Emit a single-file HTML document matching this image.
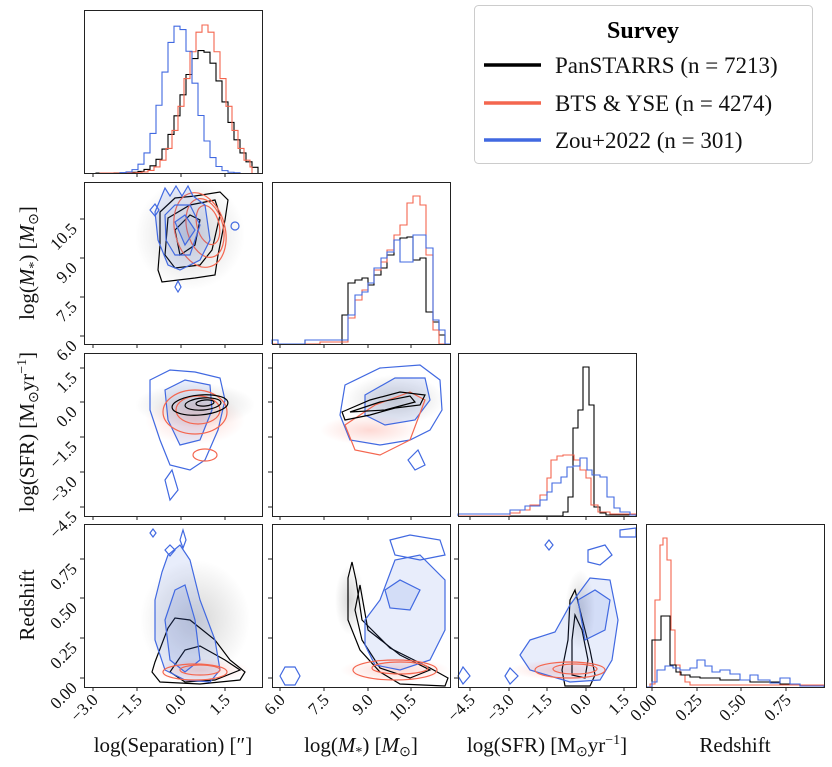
<!DOCTYPE html>
<html><head><meta charset="utf-8"><style>
body{margin:0;background:#fff}
svg{display:block;font-family:"Liberation Serif",serif}
</style></head><body>
<svg id="s" width="832" height="767" viewBox="0 0 832 767" xmlns="http://www.w3.org/2000/svg">
<defs>
<radialGradient id="g"><stop offset="0" stop-color="#888" stop-opacity="0.35"/><stop offset="1" stop-color="#888" stop-opacity="0"/></radialGradient>
<radialGradient id="r"><stop offset="0" stop-color="#fa8070" stop-opacity="0.3"/><stop offset="1" stop-color="#fa8070" stop-opacity="0"/></radialGradient>
</defs>
<g id="plots"></g>
<g fill="none" stroke="#222" stroke-width="1">
<rect x="84.5" y="10.5" width="178" height="163"/>
<rect x="84.5" y="182.5" width="178" height="162"/>
<rect x="272.5" y="182.5" width="178" height="162"/>
<rect x="84.5" y="353.5" width="178" height="163"/>
<rect x="272.5" y="353.5" width="178" height="163"/>
<rect x="458.5" y="353.5" width="178" height="163"/>
<rect x="84.5" y="524.5" width="178" height="163"/>
<rect x="272.5" y="524.5" width="178" height="163"/>
<rect x="458.5" y="524.5" width="178" height="163"/>
<rect x="646.5" y="524.5" width="178" height="163"/>
</g>
<g id="ticks" stroke="#222" stroke-width="1"></g>
<g font-size="17" fill="#111" id="tl"></g>
<g font-size="21" fill="#111" text-anchor="middle">
<text x="173" y="752">log(Separation) [″]</text>
<text x="361" y="752">log(<tspan font-style="italic">M</tspan><tspan font-size="14" dy="4">*</tspan><tspan dy="-4">) [</tspan><tspan font-style="italic">M</tspan><tspan font-size="14" dy="4">⊙</tspan><tspan dy="-4">]</tspan></text>
<text x="547" y="752">log(SFR) [M<tspan font-size="14" dy="4">⊙</tspan><tspan dy="-4">yr</tspan><tspan font-size="14" dy="-8">−1</tspan><tspan dy="8">]</tspan></text>
<text x="735" y="752">Redshift</text>
<text transform="translate(34,263) rotate(-90)">log(<tspan font-style="italic">M</tspan><tspan font-size="14" dy="4">*</tspan><tspan dy="-4">) [</tspan><tspan font-style="italic">M</tspan><tspan font-size="14" dy="4">⊙</tspan><tspan dy="-4">]</tspan></text>
<text transform="translate(34,432) rotate(-90)">log(SFR) [M<tspan font-size="14" dy="4">⊙</tspan><tspan dy="-4">yr</tspan><tspan font-size="14" dy="-8">−1</tspan><tspan dy="8">]</tspan></text>
<text transform="translate(34,605) rotate(-90)">Redshift</text>
</g>
<rect x="474.5" y="5.5" width="338" height="158" rx="4" fill="#fff" stroke="#ccc"/>
<text x="643" y="38" font-size="24" font-weight="bold" text-anchor="middle">Survey</text>
<g stroke-width="3.5"><line x1="484" y1="65" x2="541" y2="65" stroke="#000"/><line x1="484" y1="103" x2="541" y2="103" stroke="#f4664f"/><line x1="484" y1="140" x2="541" y2="140" stroke="#4169e1"/></g>
<g font-size="23" fill="#111"><text x="555" y="73">PanSTARRS (n = 7213)</text><text x="555" y="111">BTS &amp; YSE (n = 4274)</text><text x="555" y="148">Zou+2022 (n = 301)</text></g>
</svg>
<script>
const NS="http://www.w3.org/2000/svg",P=document.getElementById('plots');
function el(t,a){const e=document.createElementNS(NS,t);for(const k in a)e.setAttribute(k,a[k]);P.appendChild(e);return e;}
const K="#000",R="#f4664f",B="#4169e1";
function step(pts,base,x0,x1,c){let d=`M${x0},${base}`;for(let i=0;i<pts.length;i++){const [x,y]=pts[i];d+=` H${x} V${y}`;}d+=` H${x1} V${base}`;el('path',{d,fill:'none',stroke:c,'stroke-width':1.1});}
function gstep(cx,s,h,base,x0,x1,w,c){const pts=[];for(let x=x0;x<=x1;x+=w){const v=h*Math.exp(-((x+w/2-cx)**2)/(2*s*s));pts.push([x,base-v]);}step(pts,base,x0,x1,c);}
gstep(203,21,123,173,96,258,6,K);
gstep(205,19,148,173,100,252,6,R);
gstep(179,16,148,173,120,240,6,B);
step([[305,340],[342,344],[342,315],[348,283],[355,280],[362,278],[368,285],[374,275],[381,268],[387,255],[394,240],[400,238],[407,237],[413,260],[420,258],[426,312],[433,322],[439,335],[445,344]],344,272,450,K);
step([[320,342],[348,318],[355,300],[362,290],[368,283],[374,270],[381,262],[387,250],[394,235],[400,225],[407,203],[413,196],[420,205],[426,255],[433,330],[439,344]],344,272,450,R);
step([[272,340],[278,344],[305,340],[348,315],[355,295],[362,292],[368,283],[374,268],[381,258],[387,252],[394,240],[400,262],[407,262],[413,235],[420,235],[426,248],[433,320],[439,330],[445,344]],344,272,450,B);
step([[563,512],[568,497],[573,428],[578,410],[583,367],[589,405],[594,507],[600,513],[606,515]],516,458,636,K);
step([[510,513],[520,510],[530,505],[540,495],[547,478],[551,460],[557,456],[563,455],[569,455],[574,460],[580,470],[586,478],[591,505],[598,512],[610,514]],516,458,636,R);
step([[458,514],[510,510],[525,506],[540,500],[547,492],[552,483],[561,477],[567,467],[573,466],[580,458],[587,470],[592,475],[600,477],[607,497],[614,508],[620,512],[630,515]],516,458,636,B);
step([[650,684],[655,600],[660,545],[663,538],[667,560],[671,630],[675,665],[680,675],[685,682],[690,685]],687,646,824,R);
step([[652,640],[661,616],[667,616],[670,665],[676,672],[681,675],[690,677],[700,678],[720,680],[750,682],[780,684],[800,686]],687,646,824,K);
step([[652,682],[657,670],[665,666],[673,668],[680,670],[690,668],[697,660],[705,666],[712,672],[720,670],[730,674],[740,680],[750,675],[758,680],[770,683],[780,678],[790,684],[800,686],[810,686]],687,646,824,B);
function cloud(cx,cy,rx,ry,f){el('ellipse',{cx,cy,rx,ry,fill:`url(#${f})`});}
cloud(190,235,55,55,'g');cloud(195,405,60,22,'g');cloud(395,400,50,25,'g');cloud(195,620,55,60,'g');cloud(350,600,15,35,'g');cloud(580,610,15,40,'g');
cloud(200,670,50,12,'r');cloud(395,670,55,12,'r');cloud(560,670,50,10,'r');cloud(195,420,50,25,'r');cloud(370,430,50,15,'r');
function poly(pts,c,f){el('path',{d:'M'+pts.map(p=>p.join(',')).join(' L')+' Z',fill:f||'none','fill-opacity':0.12,stroke:c,'stroke-width':1.2});}
function ell(cx,cy,rx,ry,c,rot){el('ellipse',{cx,cy,rx,ry,fill:'none',stroke:c,'stroke-width':1.2,transform:`rotate(${rot||0} ${cx} ${cy})`});}
poly([[160,212],[175,198],[195,196],[220,192],[228,200],[225,220],[218,255],[215,275],[195,278],[162,282],[158,270],[160,245]],K);
poly([[168,218],[190,205],[215,200],[220,215],[212,250],[200,265],[175,268],[165,255]],K);
poly([[175,230],[190,215],[200,220],[195,245],[180,255]],K);
ell(200,230,25,38,R,-15);ell(205,228,18,30,R,-15);ell(208,225,11,20,R,-15);
poly([[155,212],[165,188],[170,196],[176,186],[182,196],[188,186],[193,196],[205,205],[210,240],[200,260],[180,270],[168,265],[158,240]],B,B);
poly([[165,215],[175,205],[190,205],[200,225],[190,255],[175,255],[166,240]],B);
poly([[175,222],[185,215],[195,230],[185,245]],B,B);
poly([[150,210],[155,204],[159,210],[155,216]],B);poly([[175,287],[178,281],[181,287],[178,292]],B);ell(235,226,4,4,B);
poly([[150,380],[170,370],[195,372],[220,378],[225,400],[218,430],[205,460],[190,470],[170,465],[160,440],[150,410]],B);
poly([[165,390],[185,380],[210,385],[212,410],[200,440],[180,445],[168,420]],B,B);
poly([[165,480],[172,470],[178,490],[170,500]],B);
ell(195,412,32,22,R,0);ell(198,410,22,14,R,0);ell(205,455,12,6,R,0);
ell(200,405,28,10,K,-5);ell(203,404,18,6,K,-5);ell(205,403,9,3,K,-5);
poly([[345,385],[380,368],[420,365],[440,380],[442,410],[430,430],[410,440],[380,445],[350,440],[340,415]],B);
poly([[365,395],[395,378],[425,378],[430,400],[415,420],[385,425],[365,415]],B,B);
poly([[408,460],[418,450],[425,465],[415,470]],B);
poly([[345,425],[375,405],[410,392],[425,400],[410,440],[380,455],[355,450]],R);
poly([[342,412],[370,400],[400,392],[425,395],[420,405],[395,408],[370,415],[345,420]],K);
poly([[350,412],[380,402],[410,396],[415,402],[385,410]],K);
poly([[152,672],[155,662],[168,628],[175,618],[190,620],[215,640],[230,660],[245,672],[240,680],[200,684],[160,682]],K);
poly([[170,672],[185,650],[200,646],[225,660],[240,670],[215,680],[185,682]],K);
poly([[155,600],[162,572],[168,555],[180,545],[190,560],[200,600],[215,640],[220,670],[210,682],[185,680],[165,670],[155,640]],B,B);
poly([[165,620],[175,590],[185,585],[195,620],[200,660],[185,672],[170,660]],B,B);
poly([[150,533],[153,529],[156,533],[153,537]],B);poly([[180,540],[183,530],[186,540],[183,548]],B);poly([[165,550],[170,545],[175,550],[170,556]],B);
ell(195,672,32,8,R,0);ell(200,670,20,5,R,0);
poly([[348,578],[352,562],[356,580],[362,620],[390,648],[430,668],[448,678],[445,686],[400,684],[380,672],[360,650],[348,620]],K);
poly([[355,610],[360,585],[368,630],[400,655],[430,670],[410,678],[380,668],[362,640]],K);
poly([[365,620],[380,600],[395,560],[420,555],[445,580],[445,630],[430,660],[400,670],[375,665],[365,645]],B,B);
poly([[390,540],[410,535],[440,540],[445,555],[420,560],[395,555]],B);
poly([[385,590],[400,580],[420,590],[410,610],[390,608]],B,B);
poly([[280,676],[285,667],[295,667],[300,676],[295,685],[285,685]],B);
ell(395,670,42,10,R,0);ell(400,668,28,6,R,0);
poly([[570,600],[575,590],[580,610],[590,650],[595,675],[590,686],[565,686],[562,670],[568,640]],K);
poly([[575,615],[582,630],[588,660],[585,678],[572,675],[572,640]],K);
poly([[530,640],[555,632],[570,605],[590,578],[610,580],[618,620],[612,660],[600,680],[570,682],[530,670],[520,655]],B,B);
poly([[578,600],[595,590],[610,600],[605,630],[585,640]],B,B);
poly([[588,550],[605,545],[612,555],[600,565],[588,562]],B);
poly([[620,530],[636,528],[636,537],[620,537]],B);poly([[545,545],[549,540],[553,545],[549,550]],B);
poly([[458,676],[463,667],[470,676],[463,684]],B);poly([[505,676],[510,668],[518,676],[510,684]],B);
ell(570,670,35,8,R,0);ell(575,669,22,5,R,0);
const T=document.getElementById('ticks'),TL=document.getElementById('tl');
function tk(x1,y1,x2,y2){const e=document.createElementNS(NS,'line');e.setAttribute('x1',x1);e.setAttribute('y1',y1);e.setAttribute('x2',x2);e.setAttribute('y2',y2);T.appendChild(e);}
function lab(x,y,s){const e=document.createElementNS(NS,'text');e.setAttribute('x',x);e.setAttribute('y',y);e.setAttribute('text-anchor','end');e.setAttribute('transform',`rotate(-45 ${x} ${y})`);e.textContent=s;TL.appendChild(e);}
const cols=[[84,[93,137,181,225],["−3.0","−1.5","0.0","1.5"]],[272,[280,324,368,411],["6.0","7.5","9.0","10.5"]],[458,[470,509,547,586,624],["−4.5","−3.0","−1.5","0.0","1.5"]],[646,[652,697,741,786],["0.00","0.25","0.50","0.75"]]];
const rowsB=[173,344,516,687];
for(let c=0;c<4;c++)for(let r=c;r<4;r++){for(const x of cols[c][1])tk(x,rowsB[r],x,rowsB[r]+4);}
cols.forEach(([_,xs,ls])=>xs.forEach((x,i)=>lab(x+6,701,ls[i])));
const rowsY=[null,[[219,"10.5"],[258,"9.0"],[297,"7.5"],[336,"6.0"]],[[368,"1.5"],[402,"0.0"],[437,"−1.5"],[472,"−3.0"],[507,"−4.5"]],[[559,"0.75"],[598,"0.50"],[638,"0.25"],[678,"0.00"]]];
for(let r=1;r<4;r++){for(let c=0;c<r;c++){const x0=cols[c][0];for(const [y] of rowsY[r])tk(x0,y,x0-4,y);}for(const [y,s] of rowsY[r])lab(78,y+11,s);}
</script>
</body></html>
